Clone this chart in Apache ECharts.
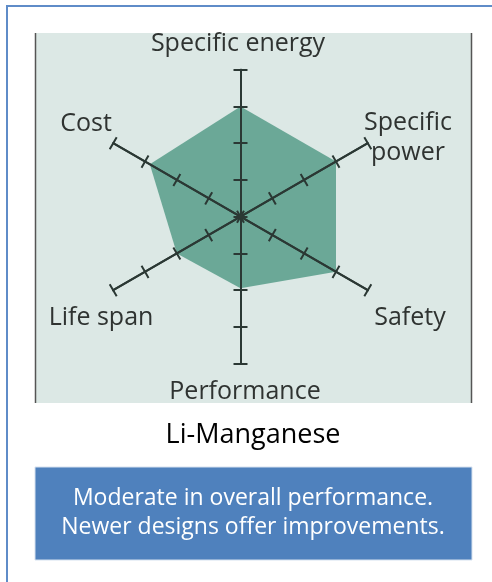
<!DOCTYPE html>
<html>
<head>
<meta charset="utf-8">
<script src="https://cdn.jsdelivr.net/npm/echarts@6/dist/echarts.min.js"></script>
<style>
html,body{margin:0;padding:0;background:#fff;}
#main{width:492px;height:582px;}
</style>
</head>
<body>
<div id="main"></div>
<script>
// radar data, counter-clockwise from the top
var indicatorNames = ['Specific energy', 'Cost', 'Life span', 'Performance', 'Safety', 'Specific power'];
var seriesValues = [3, 2.85, 2, 1.95, 3, 3];
var axisMax = 4;
var titleText = 'Li-Manganese';
var noteLines = ['Moderate in overall performance.', 'Newer designs offer improvements.'];

var axisColor = '#2b3834';
var labelColor = '#2f3331';
var labelFont = '25px "Open Sans"';

// where each axis name sits (layout only)
var nameLayout = {
    'Specific energy': [238, 44],
    'Cost': [86, 124],
    'Life span': [101, 318],
    'Performance': [245, 392],
    'Safety': [410, 318],
    'Specific power': [408, 138]
};

var indicators = indicatorNames.map(function (n) {
    return { name: n, min: 0, max: axisMax };
});

var radarOuter = {
    center: [240.5, 216.7],
    radius: 147,
    startAngle: 90,
    splitNumber: 4,
    shape: 'polygon',
    indicator: indicators,
    axisName: { show: false },
    splitLine: { show: false },
    splitArea: { show: false },
    axisLine: { show: true, lineStyle: { color: axisColor, width: 2 } },
    axisTick: { show: true, length: 7, lineStyle: { color: axisColor, width: 2 } },
    z: 5
};
// second copy draws the ticks on the other side so they cross the axis
var radarInner = JSON.parse(JSON.stringify(radarOuter));
radarInner.axisTick.length = -7;

var graphics = [
    // outer frame
    { type: 'rect', z: -10, shape: { x: 7, y: 6, width: 600, height: 700 },
      style: { fill: null, stroke: '#5f8cc8', lineWidth: 2 } },
    // grey chart panel
    { type: 'rect', z: -9, shape: { x: 35, y: 33, width: 437, height: 370 },
      style: { fill: '#dce8e5' } },
    { type: 'line', z: -8, shape: { x1: 35.5, y1: 33, x2: 35.5, y2: 403 },
      style: { stroke: '#555', lineWidth: 1.5 } },
    { type: 'line', z: -8, shape: { x1: 471.5, y1: 33, x2: 471.5, y2: 403 },
      style: { stroke: '#555', lineWidth: 1.5 } },
    // title
    { type: 'text', z: 10, x: 253, y: 435,
      style: { text: titleText, font: '27px "Open Sans"', fill: '#000', align: 'center', verticalAlign: 'middle' } },
    // blue note box
    { type: 'rect', z: 0, shape: { x: 35, y: 467, width: 437, height: 93 },
      style: { fill: '#4f81bd', stroke: '#d6e1ef', lineWidth: 1 } },
    { type: 'text', z: 10, x: 253, y: 513,
      style: { text: noteLines.join('\n'), font: '23px "Open Sans"', lineHeight: 28.5, fill: '#fff', align: 'center', verticalAlign: 'middle' } }
];

indicatorNames.forEach(function (n) {
    var p = nameLayout[n];
    var txt = n === 'Specific power' ? 'Specific\npower' : n;
    graphics.push({ type: 'text', z: 10, x: p[0], y: p[1],
        style: { text: txt, font: labelFont, lineHeight: 30.5, fill: labelColor, align: 'center', verticalAlign: 'middle' } });
});

var myChart = echarts.init(document.getElementById('main'));
myChart.setOption({
    animation: false,
    radar: [radarOuter, radarInner],
    graphic: { elements: graphics },
    series: [{
        type: 'radar',
        radarIndex: 0,
        z: 1,
        silent: true,
        symbol: 'none',
        lineStyle: { width: 0 },
        areaStyle: { color: '#6ba897', opacity: 1 },
        data: [{ value: seriesValues }]
    }]
});
</script>
</body>
</html>
